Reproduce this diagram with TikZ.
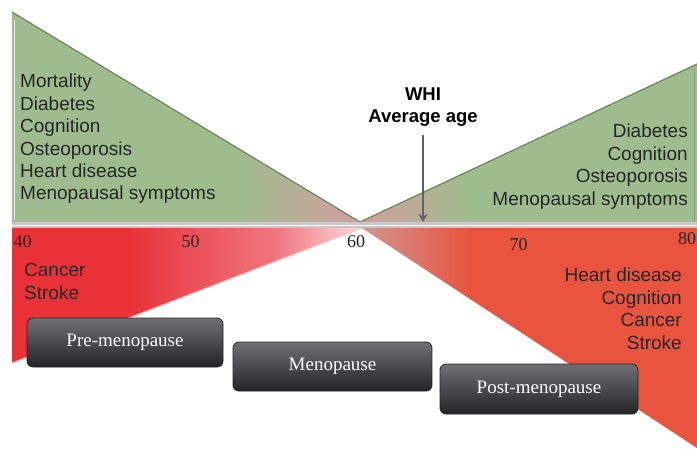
\documentclass[tikz,border=0pt]{standalone}
\usepackage{fontspec}
\setmainfont{Liberation Serif}
\newfontfamily\arialf{Liberation Sans}
\usetikzlibrary{arrows.meta}
\definecolor{grn}{RGB}{158,188,142}
\definecolor{grnedge}{RGB}{105,135,90}
\definecolor{pnk}{RGB}{212,158,158}
\definecolor{redL}{RGB}{232,50,56}
\definecolor{redM}{RGB}{240,120,130}
\definecolor{redW}{RGB}{250,222,222}
\definecolor{redR}{RGB}{232,84,62}
\definecolor{pnkR}{RGB}{208,150,148}
\definecolor{boxtop}{RGB}{112,112,115}
\definecolor{boxbot}{RGB}{36,36,38}
\definecolor{arrowgray}{RGB}{95,97,105}
\tikzset{
  listtxt/.style={font=\arialf\fontsize{19}{22.4}\selectfont, text=black!85, inner sep=0pt},
  axisnum/.style={font=\fontsize{18}{20}\selectfont, text=black!85, inner sep=0pt, anchor=base},
  phase/.style={rounded corners=6pt, draw=black!85, line width=0.8pt, top color=boxtop, bottom color=boxbot,
    font=\fontsize{19}{21}\selectfont, text=white, inner sep=0pt},
}
\begin{document}
\begin{tikzpicture}[x=1pt,y=-1pt]
\useasboundingbox (0,0) rectangle (697,448);
% left green triangle
\begin{scope}
\clip (12,12) -- (12,222) -- (360,222) -- cycle;
\fill[grn] (0,0) rectangle (240,230);
\shade[left color=grn, right color=pnk] (239,0) rectangle (362,230);
\end{scope}
\draw[grnedge, line width=1.2pt] (12,12) -- (360,222);
\draw[white!80!grn, line width=1pt] (14,20) -- (14,220);
% right green triangle
\begin{scope}
\clip (360,222) -- (697,64) -- (697,222) -- cycle;
\fill[grn] (470,50) rectangle (697,230);
\shade[left color=pnk, right color=grn] (358,50) rectangle (471,230);
\end{scope}
\draw[grnedge, line width=1.2pt] (360,222) -- (697,64);
\draw[grnedge!80, line width=1pt] (694,68) -- (694,221);
% left red triangle
\begin{scope}
\clip (12,228) -- (362,228) -- (12,363) -- cycle;
\fill[redL] (0,220) rectangle (130,370);
\shade[left color=redL, right color=redM] (129,220) rectangle (280,370);
\shade[left color=redM, right color=redW] (279,220) rectangle (363,370);
\end{scope}
\draw[white!70!redL, line width=1pt] (362,228) -- (12,363);
% right red triangle
\begin{scope}
\clip (362,228) -- (697,228) -- (697,448) -- cycle;
\fill[redR] (470,220) rectangle (697,448);
\shade[left color=pnkR, right color=redR] (360,220) rectangle (471,448);
\end{scope}
% gray strip
\fill[black!22] (12,222) rectangle (697,228);
\draw[white, line width=0.8pt] (12,225) -- (697,225);
% axis numbers
\node[axisnum] (n40) at (22.5,247) {40};
\node[axisnum] (n50) at (190.5,247) {50};
\node[axisnum] (n60) at (356,247) {60};
\node[axisnum] (n70) at (518.5,250) {70};
\node[axisnum] (n80) at (687,244) {80};
% texts
\node[listtxt, align=left, anchor=north west] (lg) at (20,74) {Mortality\\Diabetes\\Cognition\\Osteoporosis\\Heart disease\\Menopausal symptoms};
\node[listtxt, align=right, anchor=north east] (rg) at (688,124) {Diabetes\\Cognition\\Osteoporosis\\Menopausal symptoms};
\node[listtxt, align=left, anchor=north west] (lr) at (24,263.5) {Cancer\\Stroke};
\node[listtxt, align=right, anchor=north east] (rr) at (682,268) {Heart disease\\Cognition\\Cancer\\Stroke};
% WHI
\node[font=\arialf\bfseries\fontsize{18.5}{22}\selectfont, align=center, inner sep=0pt, anchor=north] (whi) at (423,88) {WHI\\Average age};
\coordinate (whiend) at (423,222);
\draw[arrowgray, line width=2.6pt, -{Stealth[length=8pt,width=9pt]}] (423,135) -- (whiend);
% phase boxes
\node[phase, minimum width=196pt, minimum height=49pt] (pre) at (125,342.5) {Pre-menopause};
\node[phase, minimum width=199pt, minimum height=49pt] (meno) at (332.5,366.5) {Menopause};
\node[phase, minimum width=198pt, minimum height=50pt] (post) at (539,389) {Post-menopause};
\end{tikzpicture}
\end{document}
